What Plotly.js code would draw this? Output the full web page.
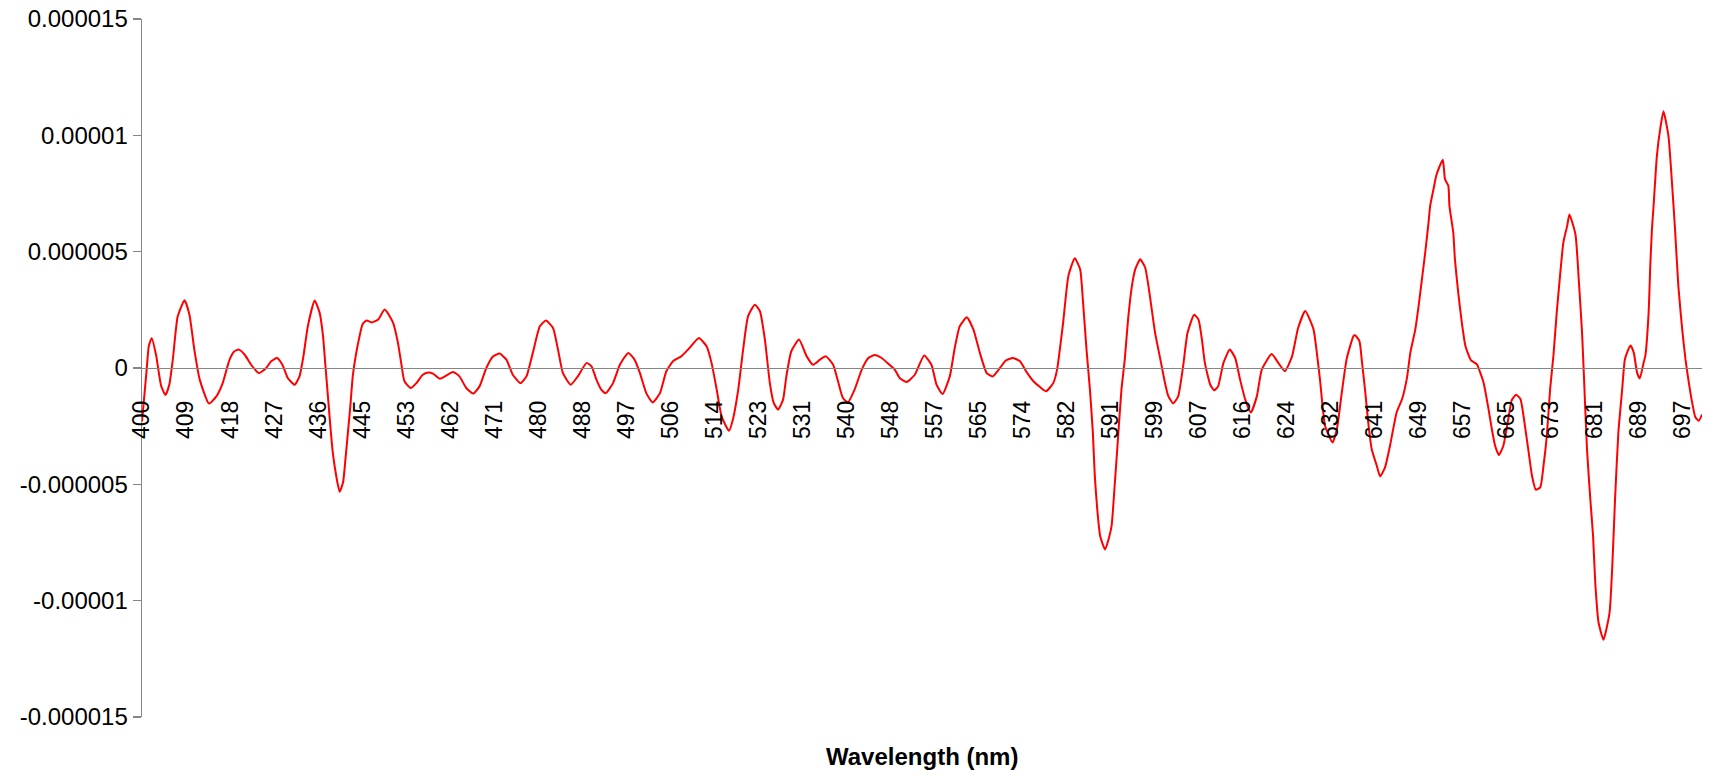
<!DOCTYPE html>
<html>
<head>
<meta charset="utf-8">
<script src="https://cdn.plot.ly/plotly-3.0.1.min.js"></script>
<style>
  html, body { margin: 0; padding: 0; background: #ffffff; }
  #chart { width: 1711px; height: 780px; }
</style>
</head>
<body>
<div id="chart"></div>
<script>
// Category tick labels shown on the wavelength axis (nm)
const tickLabels = [400,409,418,427,436,445,453,462,471,480,488,497,506,514,523,531,540,548,557,565,574,582,591,599,607,616,624,632,641,649,657,665,673,681,689,697];

// Wavelength of each sample (nm)
const wavelength = [400.0,400.9,401.4,402.0,402.9,403.9,404.8,405.6,406.3,407.3,408.7,409.7,410.7,411.8,413.7,415.2,416.5,417.9,418.9,419.8,421.0,422.3,423.9,425.4,426.4,427.6,428.7,429.8,431.2,432.2,433.0,433.9,435.3,436.3,437.0,437.5,438.0,438.5,439.0,439.7,440.4,441.1,441.6,442.1,442.6,443.1,443.7,444.5,445.1,445.8,446.7,447.9,449.1,450.6,451.5,452.1,452.7,453.9,455.1,456.4,457.5,458.5,459.9,462.6,463.9,465.3,466.7,468.0,469.4,470.8,472.1,473.5,474.8,476.4,477.6,478.9,480.3,481.4,482.7,483.6,484.5,485.9,487.2,488.9,489.9,490.9,491.9,492.8,494.3,495.7,497.4,498.7,499.8,501.1,502.4,503.9,505.2,506.5,508.0,509.5,511.2,512.6,513.5,514.5,515.5,517.0,517.8,518.9,519.9,520.9,522.3,523.3,524.2,525.1,525.8,526.6,527.5,528.1,529.0,530.4,531.9,533.2,534.6,535.8,537.3,538.3,539.3,540.3,541.5,542.8,544.0,545.2,546.4,547.6,548.9,549.9,551.3,553.0,554.9,556.4,557.4,558.5,559.8,560.7,561.6,562.9,564.1,565.3,566.7,567.9,569.4,570.6,572.0,573.5,574.8,576.0,577.2,578.3,579.6,580.3,580.8,581.4,582.4,583.7,584.8,585.4,586.1,586.8,587.4,587.8,588.3,588.9,589.9,590.6,591.2,591.8,592.4,593.0,593.6,594.2,594.9,595.5,596.4,597.3,597.9,598.5,599.1,599.7,600.3,600.9,601.5,602.4,603.3,604.2,605.0,606.2,607.0,607.7,608.3,609.4,610.2,611.0,612.1,613.4,614.5,615.5,616.5,617.5,618.6,619.5,621.3,622.5,623.7,625.0,626.1,627.4,628.9,629.5,630.1,631.0,632.4,633.3,634.3,635.3,636.7,637.0,637.9,638.4,639.1,639.7,640.4,641.4,642.0,642.9,643.8,645.0,646.0,646.9,647.5,648.4,649.0,649.6,650.2,650.8,651.1,651.7,652.2,652.8,653.4,653.8,654.4,654.6,655.3,655.6,656.2,656.9,657.5,658.5,659.6,660.2,660.8,661.7,662.3,662.9,663.6,664.4,665.3,665.9,666.7,667.5,668.4,669.0,669.6,670.3,671.1,671.7,672.3,672.9,673.5,674.1,674.7,675.3,676.0,676.4,677.5,678.1,678.7,679.0,679.6,680.2,680.7,681.1,681.7,682.6,683.7,684.2,684.7,685.3,686.0,686.5,687.5,688.1,688.7,689.2,689.9,690.2,690.8,691.1,691.4,691.7,692.3,692.9,693.5,694.4,695.0,695.6,696.2,696.9,697.5,698.1,698.7,699.3,699.9,700.5];

// Signal values, in units of 1e-6
const signalMicro = [-2.3,-0.2,0.96,1.28,0.53,-0.76,-1.16,-0.7,0.36,2.22,2.91,2.29,0.79,-0.5,-1.53,-1.22,-0.65,0.36,0.72,0.79,0.57,0.14,-0.22,0,0.29,0.43,0.14,-0.43,-0.72,-0.36,0.5,1.79,2.9,2.39,1.39,0.1,-1.19,-2.48,-3.63,-4.63,-5.32,-4.92,-3.91,-2.77,-1.62,-0.33,0.53,1.39,1.89,2.04,1.96,2.08,2.51,1.96,1.1,0.22,-0.57,-0.86,-0.65,-0.29,-0.19,-0.24,-0.46,-0.17,-0.36,-0.86,-1.1,-0.79,0,0.5,0.62,0.36,-0.29,-0.65,-0.36,0.65,1.79,2.04,1.72,0.79,-0.22,-0.72,-0.36,0.22,0.07,-0.5,-0.93,-1.08,-0.65,0.14,0.65,0.36,-0.22,-1.08,-1.48,-1.08,-0.14,0.29,0.5,0.86,1.29,0.93,0.22,-0.93,-2.08,-2.7,-2.22,-0.93,0.79,2.22,2.72,2.44,1.22,-0.65,-1.5,-1.79,-1.36,-0.36,0.72,1.22,0.5,0.14,0.36,0.5,0.14,-0.57,-1.29,-1.48,-0.93,-0.07,0.43,0.56,0.43,0.19,-0.07,-0.43,-0.6,-0.29,0.54,0.14,-0.72,-1.12,-0.36,0.86,1.79,2.18,1.65,0.65,-0.22,-0.36,0,0.32,0.43,0.29,-0.19,-0.57,-0.82,-1.0,-0.65,-0.07,0.8,1.95,3.96,4.72,4.24,2.81,0.8,-0.92,-2.78,-4.65,-6.08,-7.23,-7.8,-7.37,-6.8,-4.93,-2.92,-0.92,0.37,2.09,3.53,4.24,4.67,4.32,3.53,2.52,1.52,0.8,0.09,-0.63,-1.2,-1.52,-1.22,0.07,1.5,2.29,2.08,1.22,0.22,-0.72,-0.96,-0.79,0.22,0.79,0.43,-0.5,-1.36,-1.91,-1.22,-0.07,0.6,0.22,-0.14,0.5,1.72,2.45,1.66,0.66,-0.55,-2.48,-3.2,-2.62,-1.05,0.4,1.38,1.41,1.16,0.3,-1.05,-2.34,-3.48,-4.2,-4.66,-4.27,-3.34,-1.91,-1.33,-0.4,0.66,1.66,2.67,3.81,4.96,6.25,6.97,7.68,8.26,8.66,8.95,8.11,7.83,6.97,5.82,4.67,3.24,1.86,0.95,0.34,0.16,-0.2,-0.62,-1.76,-2.62,-3.34,-3.74,-3.34,-2.19,-1.4,-1.15,-1.33,-2.62,-3.63,-4.63,-5.23,-5.13,-4.2,-2.91,-0.9,0.53,2.38,3.96,5.39,6.11,6.6,5.75,3.81,1.52,-0.1,-3.48,-5.63,-7.21,-9.22,-10.94,-11.68,-10.51,-8.5,-5.63,-2.77,-0.9,0.39,0.97,0.66,-0.2,-0.45,0.24,0.52,2.38,4.39,5.96,6.97,9.12,10.27,11.03,9.98,8.11,5.96,3.53,1.66,0.37,-0.62,-1.48,-2.12,-2.27,-2.0];

// Y axis tick labels
const yTickValues = [-0.000015, -0.00001, -0.000005, 0, 0.000005, 0.00001, 0.000015];
const yTickText = ['-0.000015', '-0.00001', '-0.000005', '0', '0.000005', '0.00001', '0.000015'];

const xTitle = 'Wavelength (nm)';

// Map a wavelength to its position on the (evenly spaced) category axis
function toPos(w) {
  const n = tickLabels.length;
  for (let k = 0; k < n - 1; k++) {
    if (w <= tickLabels[k + 1]) {
      return k + (w - tickLabels[k]) / (tickLabels[k + 1] - tickLabels[k]);
    }
  }
  const step = tickLabels[n - 1] - tickLabels[n - 2];
  return (n - 1) + (w - tickLabels[n - 1]) / step;
}

const n = Math.min(wavelength.length, signalMicro.length);
const xs = [], ys = [];
for (let i = 0; i < n; i++) {
  xs.push(toPos(wavelength[i]));
  ys.push(signalMicro[i] * 1e-6);
}

const FONT = 'Liberation Sans, Arial, Helvetica, sans-serif';
const AXIS_GRAY = '#868686';

const trace = {
  x: xs, y: ys, type: 'scatter', mode: 'lines',
  line: { color: '#FF0000', width: 2, shape: 'spline', smoothing: 0.5 },
  hoverinfo: 'skip'
};

const layout = {
  width: 1711, height: 780,
  margin: { l: 142, r: 9, t: 19, b: 63 },
  paper_bgcolor: '#ffffff', plot_bgcolor: '#ffffff',
  showlegend: false,
  font: { family: FONT, color: '#000000' },
  xaxis: {
    range: [xs[0], xs[n - 1]],
    anchor: 'free', position: 0.5,
    showline: true, linecolor: AXIS_GRAY, linewidth: 1.4,
    showgrid: false, zeroline: false,
    ticks: '',
    tickmode: 'array',
    tickvals: tickLabels.map((_, i) => i),
    ticktext: tickLabels.map(String),
    tickangle: -90,
    tickfont: { family: FONT, size: 23, color: '#000000' },
    ticklabelstandoff: 22
  },
  yaxis: {
    range: [-0.000015, 0.000015],
    showline: true, linecolor: AXIS_GRAY, linewidth: 1.4,
    showgrid: false, zeroline: false,
    ticks: 'outside', ticklen: 8, tickwidth: 1.4, tickcolor: AXIS_GRAY,
    tickmode: 'array', tickvals: yTickValues, ticktext: yTickText,
    tickfont: { family: FONT, size: 24, color: '#000000' }
  },
  annotations: [{
    text: '<b>' + xTitle + '</b>',
    xref: 'paper', yref: 'paper',
    x: 0.5, y: -39 / 698, xanchor: 'center', yanchor: 'middle',
    showarrow: false,
    font: { family: FONT, size: 24, color: '#000000' }
  }]
};

Plotly.newPlot('chart', [trace], layout, { displayModeBar: false, staticPlot: true });
</script>
</body>
</html>
